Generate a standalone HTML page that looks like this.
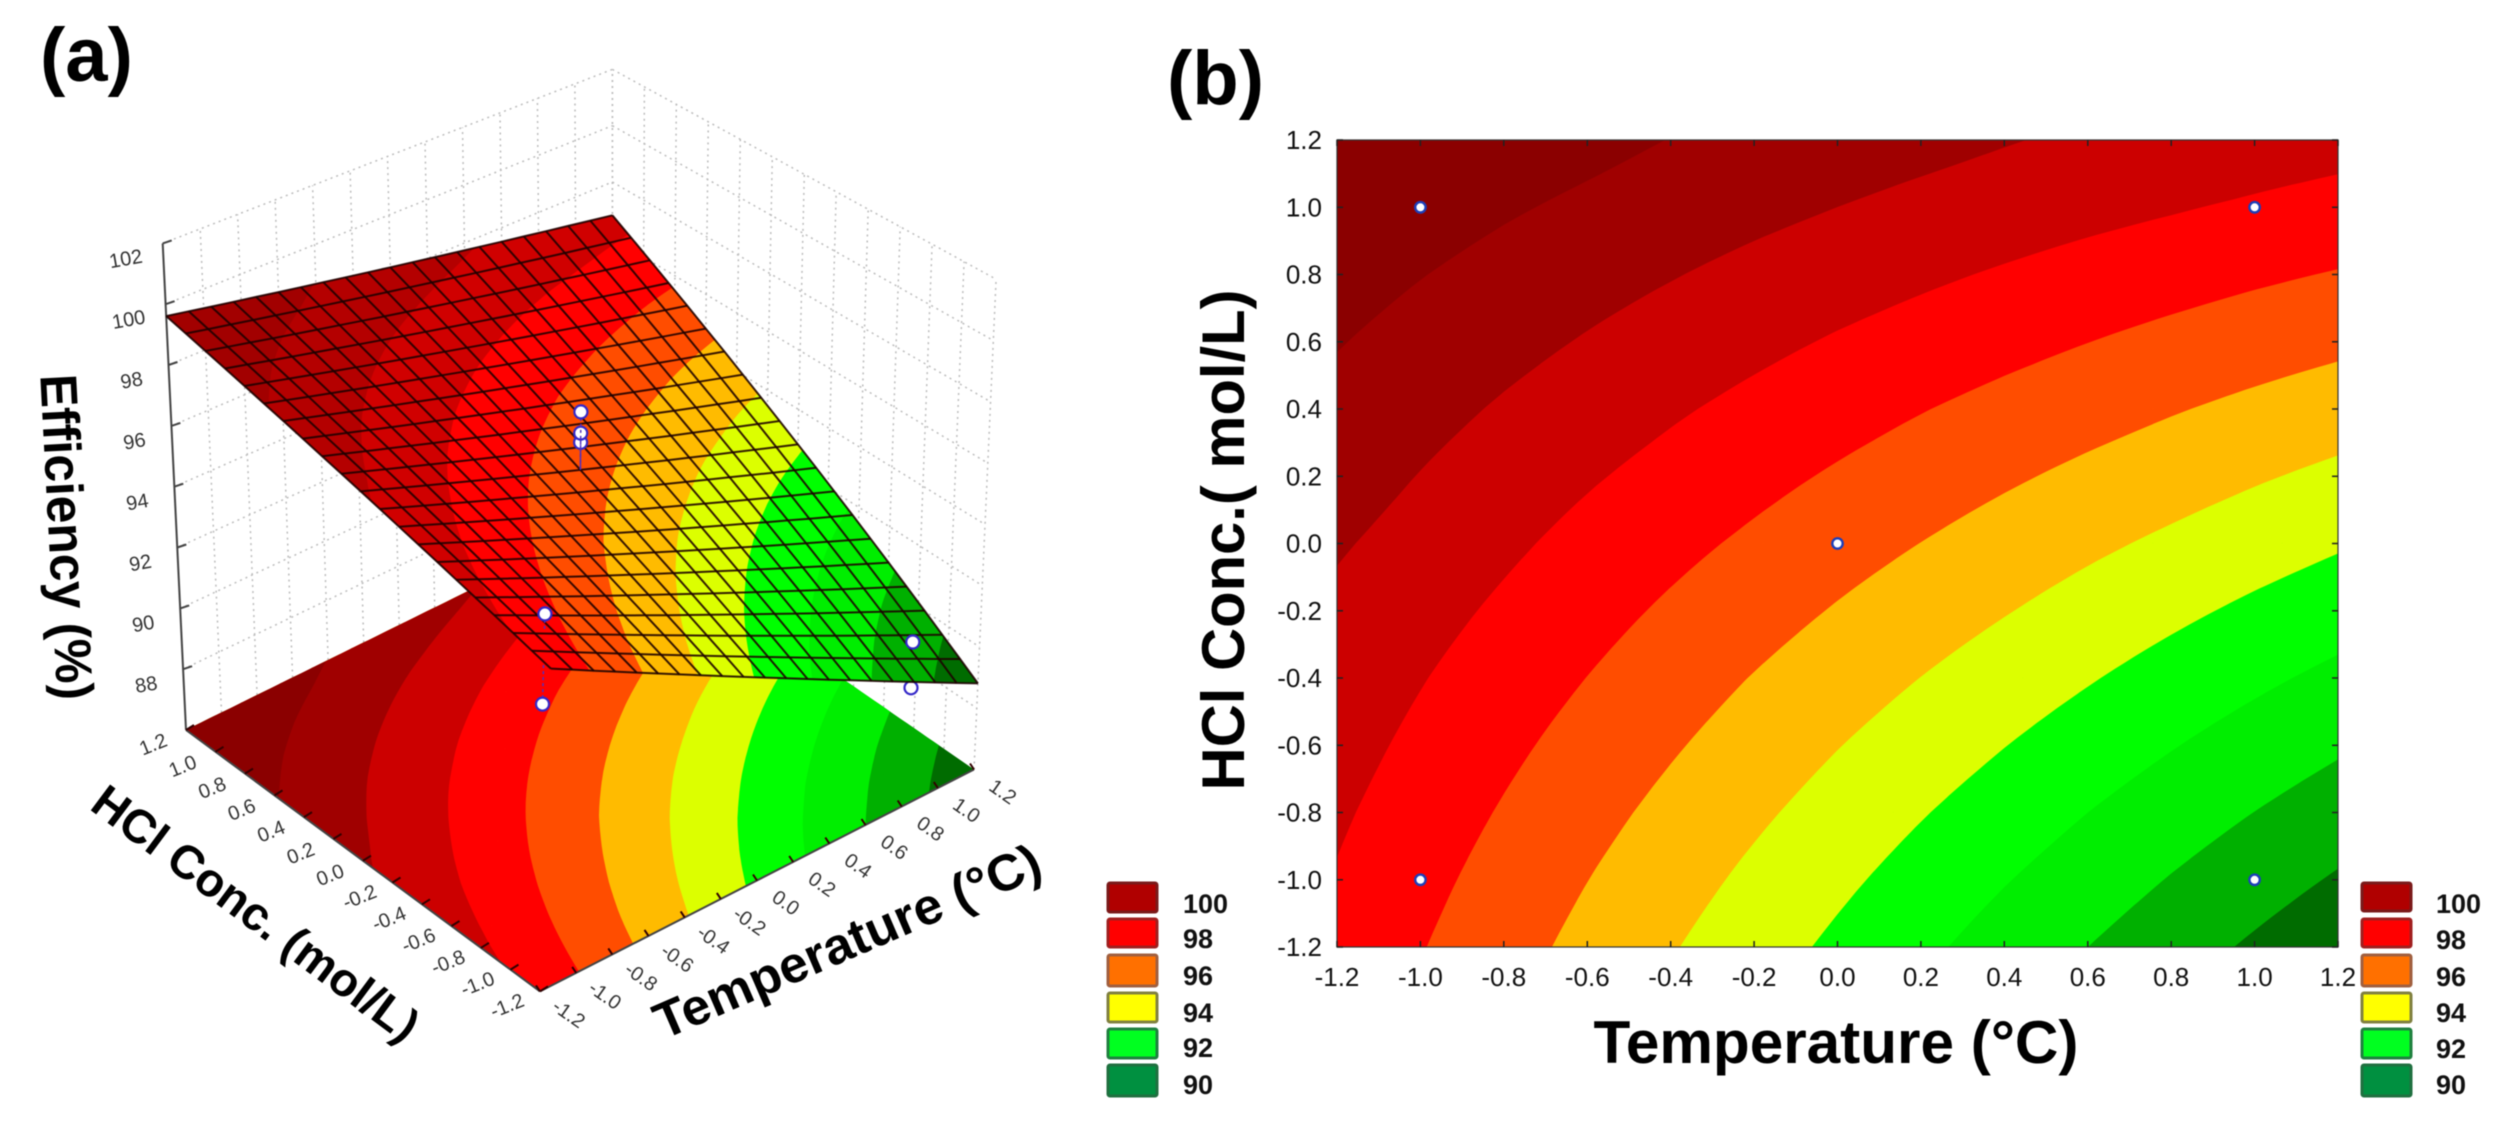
<!DOCTYPE html>
<html lang="en">
<head>
<meta charset="utf-8">
<title>Efficiency response surface and contour plot</title>
<style>
html,body{margin:0;padding:0;background:#fff;width:2495px;height:1122px;overflow:hidden}
svg{display:block;filter:blur(.6px)}
text{font-family:"Liberation Sans",sans-serif;fill:#111}
.lg{font-size:27px;font-weight:bold}
.panel{font-size:76px;font-weight:bold;fill:#000}
.title{font-weight:bold;fill:#000}
</style>
</head>
<body>
<svg id="fig" width="2495" height="1122" viewBox="0 0 2495 1122" xmlns="http://www.w3.org/2000/svg">
  <rect x="0" y="0" width="2495" height="1122" fill="#fff"/>
  <text class="panel" x="40" y="81">(a)</text>
  <text class="panel" x="1167" y="104">(b)</text>

  <g id="panelA"></g>
  <g id="panelB"></g>

  <text class="title" transform="translate(67 537) rotate(87)" text-anchor="middle" dy=".35em" font-size="52" textLength="326" lengthAdjust="spacingAndGlyphs">Efficiency (%)</text>
  <text class="title" transform="translate(256 913) rotate(36.7)" text-anchor="middle" dy=".35em" font-size="47" textLength="394" lengthAdjust="spacingAndGlyphs">HCl Conc. (mol/L)</text>
  <text class="title" transform="translate(847 941) rotate(-23.4)" text-anchor="middle" dy=".35em" font-size="51" textLength="416" lengthAdjust="spacingAndGlyphs">Temperature (°C)</text>
  <text class="title" x="1836" y="1063" text-anchor="middle" font-size="60" textLength="485" lengthAdjust="spacingAndGlyphs">Temperature (°C)</text>
  <text class="title" transform="translate(1244 540) rotate(-90)" text-anchor="middle" font-size="60" textLength="501" lengthAdjust="spacingAndGlyphs">HCl Conc.( mol/L)</text>

  <g>
    <g><rect x="1108" y="883" width="49" height="29" rx="2" fill="#b00000" stroke="#7a1a1a" stroke-width="3"/><text class="lg" x="1183" y="913">100</text></g>
    <g><rect x="1108" y="919" width="49" height="28" rx="2" fill="#ff0000" stroke="#a02020" stroke-width="3"/><text class="lg" x="1183" y="948">98</text></g>
    <g><rect x="1108" y="955" width="49" height="31" rx="2" fill="#ff7000" stroke="#a06040" stroke-width="3"/><text class="lg" x="1183" y="985">96</text></g>
    <g><rect x="1108" y="993" width="49" height="29" rx="2" fill="#ffff00" stroke="#808040" stroke-width="3"/><text class="lg" x="1183" y="1022">94</text></g>
    <g><rect x="1108" y="1029" width="49" height="29" rx="2" fill="#00ff20" stroke="#208040" stroke-width="3"/><text class="lg" x="1183" y="1057">92</text></g>
    <g><rect x="1108" y="1065" width="49" height="31" rx="2" fill="#009040" stroke="#207040" stroke-width="3"/><text class="lg" x="1183" y="1094">90</text></g>
  </g>
  <g>
    <g><rect x="2362" y="883" width="49" height="28" rx="2" fill="#b00000" stroke="#7a1a1a" stroke-width="3"/><text class="lg" x="2436" y="913">100</text></g>
    <g><rect x="2362" y="919" width="49" height="28" rx="2" fill="#ff0000" stroke="#a02020" stroke-width="3"/><text class="lg" x="2436" y="949">98</text></g>
    <g><rect x="2362" y="955" width="49" height="31" rx="2" fill="#ff7000" stroke="#a06040" stroke-width="3"/><text class="lg" x="2436" y="986">96</text></g>
    <g><rect x="2362" y="993" width="49" height="29" rx="2" fill="#ffff00" stroke="#808040" stroke-width="3"/><text class="lg" x="2436" y="1022">94</text></g>
    <g><rect x="2362" y="1029" width="49" height="29" rx="2" fill="#00ff20" stroke="#208040" stroke-width="3"/><text class="lg" x="2436" y="1058">92</text></g>
    <g><rect x="2362" y="1065" width="49" height="31" rx="2" fill="#009040" stroke="#207040" stroke-width="3"/><text class="lg" x="2436" y="1094">90</text></g>
  </g>
</svg>

<script>
// ---------- data ----------
const temperatureTicks = [-1.2,-1.0,-0.8,-0.6,-0.4,-0.2,0.0,0.2,0.4,0.6,0.8,1.0,1.2];
const concentrationTicks = [1.2,1.0,0.8,0.6,0.4,0.2,0.0,-0.2,-0.4,-0.6,-0.8,-1.0,-1.2];
const efficiencyTicks = [88,90,92,94,96,98,100,102];
// rows follow concentrationTicks, columns follow temperatureTicks
const efficiencyGrid = [
 [99.61,99.32,99.05,98.78,98.48,98.25,98.02,97.80,97.56,97.33,97.15,96.98,96.82],
 [99.24,98.92,98.61,98.32,98.03,97.76,97.50,97.25,97.02,96.79,96.58,96.38,96.19],
 [98.89,98.53,98.19,97.86,97.55,97.24,96.95,96.67,96.40,96.14,95.90,95.66,95.44],
 [98.55,98.16,97.79,97.43,97.08,96.74,96.41,96.10,95.80,95.51,95.23,94.96,94.71],
 [98.23,97.81,97.40,97.01,96.62,96.25,95.89,95.54,95.21,94.89,94.57,94.27,93.99],
 [97.93,97.47,97.03,96.60,96.19,95.78,95.39,95.01,94.64,94.28,93.94,93.60,93.28],
 [97.60,97.15,96.68,96.21,95.76,95.33,94.90,94.49,94.08,93.69,93.32,92.95,92.60],
 [97.30,96.84,96.34,95.84,95.36,94.89,94.43,93.98,93.55,93.12,92.71,92.31,91.93],
 [97.11,96.55,96.01,95.49,94.97,94.46,93.97,93.49,93.02,92.57,92.12,91.69,91.27],
 [96.87,96.28,95.71,95.15,94.60,94.06,93.53,93.02,92.52,92.03,91.55,91.08,90.63],
 [96.64,96.02,95.42,94.82,94.24,93.67,93.11,92.56,92.03,91.50,90.99,90.49,90.01],
 [96.43,95.78,95.14,94.51,93.90,93.29,92.70,92.12,91.55,91.00,90.45,89.92,89.40],
 [96.24,95.55,94.88,94.22,93.57,92.93,92.31,91.70,91.09,90.50,89.93,89.36,88.81]
];
const contourLevels = [89.5,90.5,91.5,92.5,93.5,94.5,95.5,96.5,97.5,98.5];
// design points shown as markers in the contour plot
const designTemperature = [-1,1,-1,1,0];
const designConcentration = [1,1,-1,-1,0];
// observed points in the surface plot: drawn below the surface
const lowerPointT = [-1,1];
const lowerPointC = [-0.93,-1];
const lowerPointE = [93.65,88.6];
// observed points in the surface plot: drawn above the surface
const upperPointT = [0,0,0,-1,1];
const upperPointC = [0,0,0,-0.93,-1];
const upperPointE = [96.28,96.59,97.29,96.53,90.1];

// ---------- palette and geometry ----------
const bandPalette = ['#006c00','#00b000','#00ee00','#00ff00','#dcff00','#ffbb00','#ff4d00','#ff0000','#cc0000','#a00000','#8b0000'];
const surfacePalette = ['#006c00','#00b000','#00ee00','#00ff00','#dcff00','#ffbb00','#ff4d00','#ff0000','#d00000','#b40000','#a20000'];
const NS = 'http://www.w3.org/2000/svg';
const TMIN = -1.2, TMAX = 1.2, CMIN = -1.2, CMAX = 1.2, ZMIN = 86, ZMAX = 102;
const meshCells = 20, sampleCells = 54;

function make(tag, parent, attrs, text) {
  const el = document.createElementNS(NS, tag);
  for (const k in attrs) el.setAttribute(k, attrs[k]);
  if (text !== undefined) el.textContent = text;
  parent.appendChild(el);
  return el;
}

// bilinear read of the efficiency table
function efficiencyAt(t, c) {
  const n = temperatureTicks.length - 1, m = concentrationTicks.length - 1;
  const fx = Math.min(n, Math.max(0, (t - TMIN) / (TMAX - TMIN) * n));
  const fy = Math.min(m, Math.max(0, (CMAX - c) / (CMAX - CMIN) * m));
  const i = Math.min(n - 1, Math.floor(fx)), j = Math.min(m - 1, Math.floor(fy));
  const a = fx - i, b = fy - j, g = efficiencyGrid;
  return (1-a)*(1-b)*g[j][i] + a*(1-b)*g[j][i+1] + (1-a)*b*g[j+1][i] + a*b*g[j+1][i+1];
}

// height of the drawn 3-D sheet: spanned by the four corner values of the table
function sheetHeight(t, c) {
  const g = efficiencyGrid, n = temperatureTicks.length - 1, m = concentrationTicks.length - 1;
  const u = (t - TMIN) / (TMAX - TMIN), v = (CMAX - c) / (CMAX - CMIN);
  return (1-u)*(1-v)*g[0][0] + u*(1-v)*g[0][n] + (1-u)*v*g[m][0] + u*v*g[m][n];
}

// axis functions, panel b
const xB = t => 1337 + (t - TMIN) / (TMAX - TMIN) * (2338 - 1337);
const yB = c => 140 + (CMAX - c) / (CMAX - CMIN) * (947 - 140);

// axis function, panel a: trilinear between the eight box corners
function project(t, c, z) {
  const u = (t - TMIN) / (TMAX - TMIN), v = (c - CMIN) / (CMAX - CMIN), w = (z - ZMIN) / (ZMAX - ZMIN);
  const a = (1-u)*(1-v), b = u*(1-v), d = (1-u)*v, e = u*v;
  const fx = a*540 + b*974 + d*186 + e*612.4, fy = a*991.4 + b*769.5 + d*730 + e*520;
  const tx = a*557 + b*996.1 + d*162.7 + e*612.4, ty = a*487 + b*279.2 + d*243.4 + e*69.4;
  return [fx + (tx - fx) * w, fy + (ty - fy) * w];
}

// region of the table with efficiency >= level, as a path
function regionPath(level, toScreen) {
  let d = '';
  const corner = (i, j) => {
    const t = TMIN + (TMAX - TMIN) * i / sampleCells, c = CMIN + (CMAX - CMIN) * j / sampleCells;
    return {t, c, e: efficiencyAt(t, c)};
  };
  for (let i = 0; i < sampleCells; i++) for (let j = 0; j < sampleCells; j++) {
    const q = [corner(i, j), corner(i+1, j), corner(i+1, j+1), corner(i, j+1)];
    const out = [];
    for (let k = 0; k < 4; k++) {
      const p = q[k], r = q[(k+1) % 4], pin = p.e >= level, rin = r.e >= level;
      if (pin) out.push(p);
      if (pin !== rin) {
        const f = (level - p.e) / (r.e - p.e);
        out.push({t: p.t + (r.t - p.t) * f, c: p.c + (r.c - p.c) * f, e: level});
      }
    }
    if (out.length < 3) continue;
    d += 'M' + out.map(p => toScreen(p.t, p.c).map(v => v.toFixed(1)).join(' ')).join('L') + 'Z';
  }
  return d;
}

function drawBands(parent, toScreen, label, palette) {
  const levels = [-Infinity].concat(contourLevels);
  levels.forEach((lv, idx) => {
    const el = make('path', parent, {d: regionPath(lv, toScreen), fill: palette[idx]});
    
    
  });
}

const panelA = document.getElementById('panelA');
const panelB = document.getElementById('panelB');

// ---------- panel a: walls ----------
const walls = make('g', panelA, {fill: 'none', stroke: '#bdbdbd', 'stroke-width': 1.5, 'stroke-dasharray': '2 4'});


function segment(parent, a, b) {
  return make('line', parent, {x1: a[0].toFixed(1), y1: a[1].toFixed(1), x2: b[0].toFixed(1), y2: b[1].toFixed(1)});
}
temperatureTicks.forEach(t => {
  const el = segment(walls, project(t, CMAX, ZMIN), project(t, CMAX, ZMAX));
  
  
});
concentrationTicks.forEach(c => {
  const el = segment(walls, project(TMAX, c, ZMIN), project(TMAX, c, ZMAX));
  
  
});
efficiencyTicks.forEach(z => {
  const a = segment(walls, project(TMIN, CMAX, z), project(TMAX, CMAX, z));
  
  
  const b = segment(walls, project(TMAX, CMAX, z), project(TMAX, CMIN, z));
  
  
});

// ---------- panel a: floor contours ----------
const floorGroup = make('g', panelA, {});


drawBands(floorGroup, (t, c) => project(t, c, ZMIN), 'floor-contour-band', bandPalette);

// ---------- panel a: axes ----------
const axesA = make('g', panelA, {stroke: '#444', 'stroke-width': 2, fill: 'none'});


const zAxisLine = segment(axesA, project(TMIN, CMAX, ZMIN), project(TMIN, CMAX, ZMAX));


const cAxisLine = segment(axesA, project(TMIN, CMAX, ZMIN), project(TMIN, CMIN, ZMIN));


const tAxisLine = segment(axesA, project(TMIN, CMIN, ZMIN), project(TMAX, CMIN, ZMIN));



efficiencyTicks.forEach(z => {
  const p = project(TMIN, CMAX, z);
  const tick = segment(axesA, p, [p[0] + 9, p[1] - 3]);
  
  
  const label = make('text', panelA, {
    transform: `translate(${(p[0]-37).toFixed(1)} ${(p[1]+15).toFixed(1)}) rotate(-10)`,
    'text-anchor': 'middle', dy: '.35em', 'font-size': 20, style: 'fill:#333'
  }, String(z));
  
  
});
concentrationTicks.forEach(c => {
  const p = project(TMIN, c, ZMIN);
  const tick = segment(axesA, p, [p[0] + 8, p[1] - 5]);
  tick.setAttribute('stroke', '#300');
  
  
  const label = make('text', panelA, {
    transform: `translate(${(p[0]-33).toFixed(1)} ${(p[1]+14).toFixed(1)}) rotate(-22)`,
    'text-anchor': 'middle', dy: '.35em', 'font-size': 20, style: 'fill:#333'
  }, c.toFixed(1));
  
  
});
temperatureTicks.forEach(t => {
  const p = project(t, CMIN, ZMIN);
  const tick = segment(axesA, p, [p[0] - 4, p[1] - 6]);
  tick.setAttribute('stroke', '#300');
  
  
  const label = make('text', panelA, {
    transform: `translate(${(p[0]+29).toFixed(1)} ${(p[1]+22).toFixed(1)}) rotate(35)`,
    'text-anchor': 'middle', dy: '.35em', 'font-size': 20, style: 'fill:#333'
  }, t.toFixed(1));
  
  
});

// ---------- panel a: markers ----------
function marker3d(t, c, e) {
  const g = make('g', panelA, {});
  
  
  const p = project(t, c, e), s = project(t, c, sheetHeight(t, c));
  const stem = segment(g, p, s);
  stem.setAttribute('stroke', '#5030c0');
  stem.setAttribute('stroke-width', '1.5');
  stem.setAttribute('stroke-dasharray', '3 3');
  
  
  const dot = make('circle', g, {cx: p[0].toFixed(1), cy: p[1].toFixed(1), r: 6.5, fill: '#fff', stroke: '#3428c8', 'stroke-width': 2.2});
  
  
}
lowerPointT.forEach((t, i) => marker3d(t, lowerPointC[i], lowerPointE[i]));

// ---------- panel a: surface ----------
const surfaceGroup = make('g', panelA, {});


drawBands(surfaceGroup, (t, c) => project(t, c, sheetHeight(t, c)), 'surface-band', surfacePalette);

const mesh = make('g', panelA, {fill: 'none', stroke: '#1c0000', 'stroke-width': 2, 'stroke-opacity': .88, 'stroke-linejoin': 'round'});


for (let i = 0; i <= meshCells; i++) {
  const fixed = TMIN + (TMAX - TMIN) * i / meshCells;
  const ptsA = [], ptsB = [];
  for (let j = 0; j <= meshCells; j++) {
    const run = CMIN + (CMAX - CMIN) * j / meshCells;
    ptsA.push(project(fixed, run, sheetHeight(fixed, run)).map(v => v.toFixed(1)).join(','));
    ptsB.push(project(run, fixed, sheetHeight(run, fixed)).map(v => v.toFixed(1)).join(','));
  }
  const a = make('polyline', mesh, {points: ptsA.join(' ')});
  
  
  const b = make('polyline', mesh, {points: ptsB.join(' ')});
  
  
}
upperPointT.forEach((t, i) => marker3d(t, upperPointC[i], upperPointE[i]));

// ---------- panel b ----------
const bandsB = make('g', panelB, {});


drawBands(bandsB, (t, c) => [xB(t), yB(c)], 'contour-band', bandPalette);

const frame = make('rect', panelB, {x: 1337, y: 140, width: 1001, height: 807, fill: 'none', stroke: '#333', 'stroke-width': 1.2});



const ticksB = make('g', panelB, {stroke: '#222', 'stroke-width': 1.5});


temperatureTicks.forEach(t => {
  const x = xB(t);
  const lo = segment(ticksB, [x, 947], [x, 941]);
  
  
  const hi = segment(ticksB, [x, 140], [x, 146]);
  
  
  const label = make('text', panelB, {x: x.toFixed(1), y: 986, 'text-anchor': 'middle', 'font-size': 26}, t.toFixed(1));
  
  
});
concentrationTicks.forEach(c => {
  const y = yB(c);
  const lo = segment(ticksB, [1337, y], [1343, y]);
  
  
  const hi = segment(ticksB, [2338, y], [2332, y]);
  
  
  const label = make('text', panelB, {x: 1322, y: (y + 9).toFixed(1), 'text-anchor': 'end', 'font-size': 26}, c.toFixed(1));
  
  
});
designTemperature.forEach((t, i) => {
  const dot = make('circle', panelB, {cx: xB(t).toFixed(1), cy: yB(designConcentration[i]).toFixed(1), r: 5.2, fill: '#fff', stroke: '#1e3fb8', 'stroke-width': 2.4});
  
  
});
</script>
</body>
</html>
